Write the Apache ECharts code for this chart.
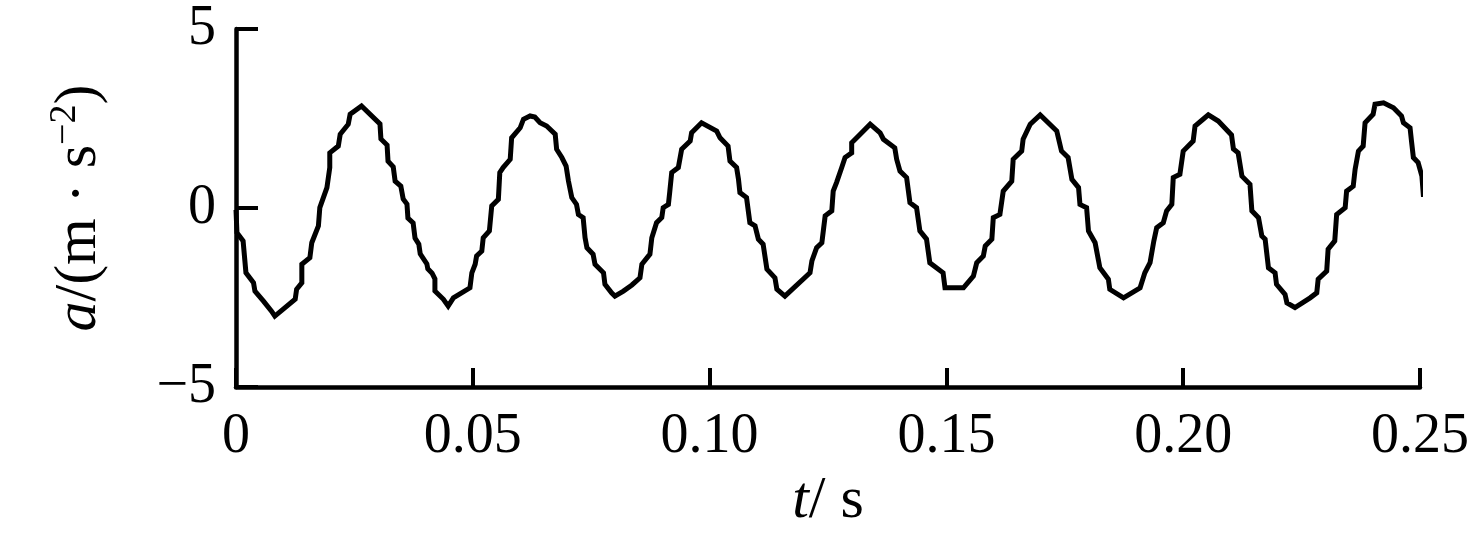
<!DOCTYPE html>
<html>
<head>
<meta charset="utf-8">
<script src="https://cdn.jsdelivr.net/npm/echarts@6/dist/echarts.min.js"></script>
<style>
html,body{margin:0;padding:0;background:#fff;}
#c{width:1482px;height:547px;}
</style>
</head>
<body>
<div id="c"></div>
<script>
// time (s) at each corner of the traced curve
const timeS = [
  0, 0.0002, 0.0015, 0.0021, 0.0037, 0.0040, 0.0058, 0.0075, 0.0082,
  0.0125, 0.0128, 0.0139, 0.0139, 0.0156, 0.0160, 0.0174, 0.0177, 0.0192, 0.0198, 0.0198, 0.0216, 0.0220, 0.0237, 0.0241, 0.0265,
  0.0304, 0.0306, 0.0319, 0.0321, 0.0332, 0.0336, 0.0348, 0.0353, 0.0361, 0.0363, 0.0374, 0.0378, 0.0386, 0.0389, 0.0403, 0.0405, 0.0414, 0.0420, 0.0420, 0.0438, 0.0448,
  0.0459, 0.0494, 0.0498, 0.0505, 0.0508, 0.0519, 0.0522, 0.0535, 0.0540, 0.0554, 0.0557, 0.0564, 0.0579, 0.0582, 0.0600, 0.0607, 0.0621, 0.0631,
  0.0642, 0.0656, 0.0674, 0.0677, 0.0688, 0.0697, 0.0702, 0.0709, 0.0719, 0.0723, 0.0733, 0.0737, 0.0741, 0.0754, 0.0758, 0.0776, 0.0779, 0.0793, 0.0800,
  0.0818, 0.0836, 0.0853, 0.0857, 0.0874, 0.0878, 0.0888, 0.0899, 0.0902, 0.0913, 0.0916, 0.0920, 0.0934, 0.0941, 0.0959, 0.0962, 0.0983,
  0.1015, 0.1022, 0.1039, 0.1043, 0.1057, 0.1061, 0.1064, 0.1078, 0.1085, 0.1096, 0.1103, 0.1113, 0.1121, 0.1138, 0.1142, 0.1159,
  0.1212, 0.1216, 0.1226, 0.1237, 0.1244, 0.1258, 0.1261, 0.1268, 0.1279, 0.1286, 0.1300, 0.1300, 0.1318, 0.1339,
  0.1360, 0.1367, 0.1391, 0.1395, 0.1402, 0.1416, 0.1423, 0.1437, 0.1444, 0.1458, 0.1465, 0.1493, 0.1497, 0.1536,
  0.1557, 0.1564, 0.1578, 0.1582, 0.1596, 0.1599, 0.1613, 0.1620, 0.1638, 0.1641, 0.1659, 0.1662, 0.1677, 0.1698,
  0.1733, 0.1743, 0.1757, 0.1765, 0.1779, 0.1782, 0.1796, 0.1800, 0.1814, 0.1824, 0.1842, 0.1845, 0.1874,
  0.1909, 0.1919, 0.1930, 0.1938, 0.1944, 0.1958, 0.1965, 0.1976, 0.1979, 0.1993, 0.2000, 0.2021, 0.2025, 0.2042, 0.2053,
  0.2074, 0.2102, 0.2106, 0.2116, 0.2124, 0.2141, 0.2145, 0.2159, 0.2166, 0.2173, 0.2180, 0.2194, 0.2197, 0.2215, 0.2219, 0.2236,
  0.2268, 0.2282, 0.2285, 0.2303, 0.2306, 0.2320, 0.2324, 0.2342, 0.2345, 0.2359, 0.2363, 0.2370, 0.2380, 0.2384, 0.2401, 0.2405, 0.2423,
  0.2444, 0.2461, 0.2465, 0.2479, 0.2482, 0.2486, 0.2496, 0.2504, 0.2507, 0.2517
];
// acceleration (m/s^2) at each corner
const accel = [
  -0.05, -0.69, -0.92, -1.81, -2.09, -2.32, -2.60, -2.88, -3.02,
  -2.55, -2.27, -2.09, -1.57, -1.39, -0.97, -0.50, 0.01, 0.57, 1.13, 1.54, 1.73, 2.06, 2.34, 2.62, 2.85,
  2.35, 1.93, 1.76, 1.31, 1.15, 0.75, 0.61, 0.25, 0.11, -0.28, -0.42, -0.84, -1.01, -1.28, -1.56, -1.70, -1.82, -1.98, -2.32, -2.55, -2.74,
  -2.51, -2.23, -1.81, -1.57, -1.34, -1.20, -0.83, -0.64, 0.06, 0.24, 0.99, 1.13, 1.36, 1.96, 2.24, 2.48, 2.57, 2.54,
  2.38, 2.29, 2.06, 1.64, 1.41, 1.17, 0.75, 0.29, 0.10, -0.18, -0.27, -0.83, -1.11, -1.29, -1.57, -1.81, -2.13, -2.37, -2.46,
  -2.32, -2.15, -1.95, -1.57, -1.29, -0.83, -0.41, -0.27, 0.01, 0.10, 0.47, 0.99, 1.13, 1.64, 1.87, 2.10, 2.38,
  2.15, 1.96, 1.73, 1.31, 1.13, 0.80, 0.43, 0.29, -0.41, -0.50, -0.87, -1.01, -1.71, -1.95, -2.27, -2.46,
  -1.81, -1.48, -1.11, -0.97, -0.22, -0.08, 0.47, 0.71, 1.13, 1.41, 1.54, 1.82, 2.06, 2.34,
  2.10, 1.92, 1.68, 1.36, 1.03, 0.85, 0.15, 0.01, -0.64, -0.87, -1.53, -1.81, -2.23, -2.23,
  -1.90, -1.53, -1.34, -1.06, -0.87, -0.27, -0.18, 0.47, 0.75, 1.36, 1.59, 1.92, 2.34, 2.60,
  2.15, 1.59, 1.41, 0.80, 0.57, 0.10, 0.01, -0.64, -0.97, -1.67, -1.99, -2.27, -2.51,
  -2.23, -1.81, -1.53, -0.92, -0.55, -0.41, -0.08, 0.10, 0.85, 0.94, 1.59, 1.87, 2.29, 2.48, 2.60,
  2.43, 2.04, 1.65, 1.54, 0.89, 0.66, -0.08, -0.27, -0.78, -0.87, -1.67, -1.81, -2.13, -2.41, -2.65, -2.78,
  -2.51, -2.37, -1.99, -1.76, -1.15, -0.92, -0.18, 0.01, 0.47, 0.61, 1.08, 1.59, 1.73, 2.38, 2.62, 2.90, 2.94,
  2.80, 2.57, 2.38, 2.24, 1.87, 1.41, 1.27, 0.89, 0.38, 0.38
];
const xTickLabels = ['0', '0.05', '0.10', '0.15', '0.20', '0.25'];
const yTickLabels = {'-5': '\u22125', '0': '0', '5': '5'};

const FONT = "'Liberation Serif', 'Times New Roman', serif";
const FS = 56;
const NFS = 60;
const data = timeS.map((t, i) => [t, accel[i]]);

const chart = echarts.init(document.getElementById('c'), null, {renderer: 'canvas'});
chart.setOption({
  animation: false,
  backgroundColor: '#fff',
  grid: {left: 236, right: 62, top: 29, bottom: 160, containLabel: false},
  xAxis: {
    type: 'value', min: 0, max: 0.25, interval: 0.05,
    axisLine: {show: true, onZero: false, lineStyle: {color: '#000', width: 4.5}},
    axisTick: {show: true, inside: true, length: 19, lineStyle: {color: '#000', width: 4}},
    splitLine: {show: false},
    axisLabel: {
      color: '#000', fontFamily: FONT, fontSize: FS, margin: 22,
      formatter: v => xTickLabels[Math.round(v / 0.05)]
    },
    name: '{i|t}{n|/ s}',
    nameLocation: 'middle', nameGap: 84,
    nameTextStyle: {
      rich: {
        i: {fontFamily: FONT, fontSize: NFS, fontStyle: 'italic', color: '#000'},
        n: {fontFamily: FONT, fontSize: NFS, color: '#000'}
      }
    }
  },
  yAxis: {
    type: 'value', min: -5, max: 5, interval: 5,
    axisLine: {show: true, onZero: false, lineStyle: {color: '#000', width: 4.5}},
    axisTick: {show: true, inside: true, length: 22, lineStyle: {color: '#000', width: 4}},
    splitLine: {show: false},
    axisLabel: {
      color: '#000', fontFamily: FONT, fontSize: FS, margin: 20,
      formatter: v => yTickLabels[String(Math.round(v))]
    },
    name: '{i|a}{n|/(m · s}{s|\u22122}{n|)}',
    nameLocation: 'middle', nameGap: 124, nameRotate: 90,
    nameTextStyle: {
      rich: {
        i: {fontFamily: FONT, fontSize: NFS, fontStyle: 'italic', color: '#000', lineHeight: 66},
        n: {fontFamily: FONT, fontSize: NFS, color: '#000', lineHeight: 66},
        s: {fontFamily: FONT, fontSize: 38, color: '#000', verticalAlign: 'top', lineHeight: 66}
      }
    }
  },
  series: [{
    type: 'line',
    data: data,
    showSymbol: false,
    clip: false,
    lineStyle: {color: '#000', width: 5, join: 'miter'},
    itemStyle: {color: '#000'}
  }]
});
</script>
</body>
</html>
